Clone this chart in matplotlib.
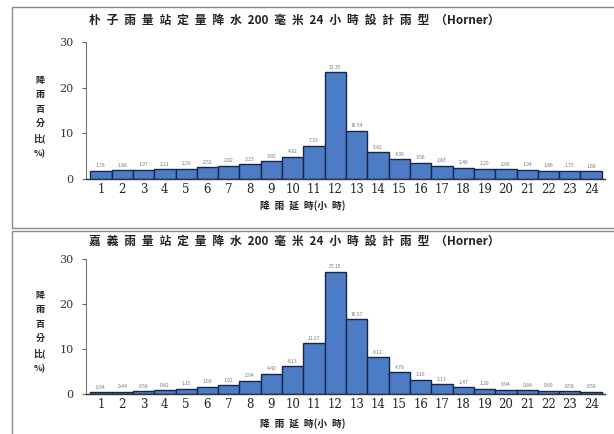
import matplotlib
matplotlib.use("Agg")
import matplotlib.pyplot as plt
from matplotlib.patches import Rectangle

plt.rcParams['font.family'] = ['Noto Sans CJK TC', 'DejaVu Sans']

hours = list(range(1, 25))
hour_labels = [str(h) for h in hours]

puzi_values = [1.78, 1.88, 1.97, 2.11, 2.29, 2.52, 2.82, 3.23, 3.85, 4.92, 7.33, 23.35,
               10.54, 5.82, 4.30, 3.58, 2.83, 2.46, 2.20, 2.09, 1.94, 1.86, 1.75, 1.66]
chiayi_values = [0.34, 0.44, 0.58, 0.82, 1.15, 1.66, 1.92, 2.94, 4.42, 6.13, 11.27, 27.15,
                 16.57, 8.12, 4.78, 3.16, 2.13, 1.47, 1.20, 0.94, 0.84, 0.69, 0.58, 0.50]

title_top = "朴子雨量站定量降水200毫米24小時設計雨型（Horner）"
title_bot = "嘉義雨量站定量降水200毫米24小時設計雨型（Horner）"
xlabel = "降雨延時(小時)"
ylabel = "降\n雨\n百\n分\n比(\n%)"
yticks = [0, 10, 20, 30]

W, H = 614, 434
EN = "\u2002"


def spaced(s):
    # widen spacing between CJK characters (the reference title is letter-spaced)
    out = ""
    for i, ch in enumerate(s):
        out += ch
        if i < len(s) - 1:
            nxt = s[i + 1]
            if ord(ch) > 0x2E80 and ord(nxt) > 0x2E80 and ch != '（' and nxt != '）':
                out += EN
            elif ord(ch) > 0x2E80 and nxt.isdigit():
                out += EN
            elif ch.isdigit() and ord(nxt) > 0x2E80:
                out += EN
    return out


fig = plt.figure(figsize=(W / 100, H / 100), dpi=100)
fig.patch.set_facecolor('white')

# panel frames
fig.add_artist(Rectangle((12 / W, 1 - 228 / H), 1.2, (228 - 7) / H, transform=fig.transFigure,
                         fill=False, edgecolor='#8a8a8a', linewidth=1.0))
fig.add_artist(Rectangle((12 / W, -0.05), 1.2, 1 - 231 / H + 0.05, transform=fig.transFigure,
                         fill=False, edgecolor='#8a8a8a', linewidth=1.0))


def panel(bottom_px, top_px, values, title, title_y, xlabel_y, ylabel_y):
    ax = fig.add_axes([86 / W, 1 - bottom_px / H, (605 - 86) / W, (bottom_px - top_px) / H])
    ax.bar(hours, values, width=1.0, color='#4d7cc6', edgecolor='#16264a', linewidth=1.0)
    for h, v in zip(hours, values):
        ax.text(h, v + 0.6, f"{v:.2f}", ha='center', va='bottom', fontsize=3.6, color='#777777')
    ax.set_xlim(0.3, 24.65)
    ax.set_ylim(0, 30)
    ax.set_yticks(yticks)
    ax.set_yticklabels([str(t) for t in yticks], fontsize=8, color='#333333', family='DejaVu Serif')
    ax.set_xticks(hours)
    ax.set_xticklabels(hour_labels, fontsize=8.5, color='#222222', family='DejaVu Serif')
    ax.tick_params(axis='x', length=0, pad=3)
    ax.tick_params(axis='y', length=3, width=0.8, color='#666666', pad=6)
    for s in ['top', 'right']:
        ax.spines[s].set_visible(False)
    ax.spines['left'].set_color('#777777')
    ax.spines['bottom'].set_color('#333333')
    ax.spines['bottom'].set_linewidth(1.0)
    fig.text(294 / W, 1 - title_y / H, spaced(title), ha='center', va='center', fontsize=8.5,
             fontweight='bold', color='#222222')
    fig.text(303 / W, 1 - xlabel_y / H, spaced(xlabel), ha='center', va='center', fontsize=7,
             fontweight='bold', color='#222222')
    fig.text(40 / W, 1 - ylabel_y / H, ylabel, ha='center', va='center', fontsize=6.5,
             fontweight='bold', color='#222222', linespacing=1.75)
    return ax


panel(179, 42, puzi_values, title_top, 20, 206, 117)
panel(394, 259, chiayi_values, title_bot, 241, 424, 332)

fig.savefig("out.png", dpi=100, facecolor='white')
